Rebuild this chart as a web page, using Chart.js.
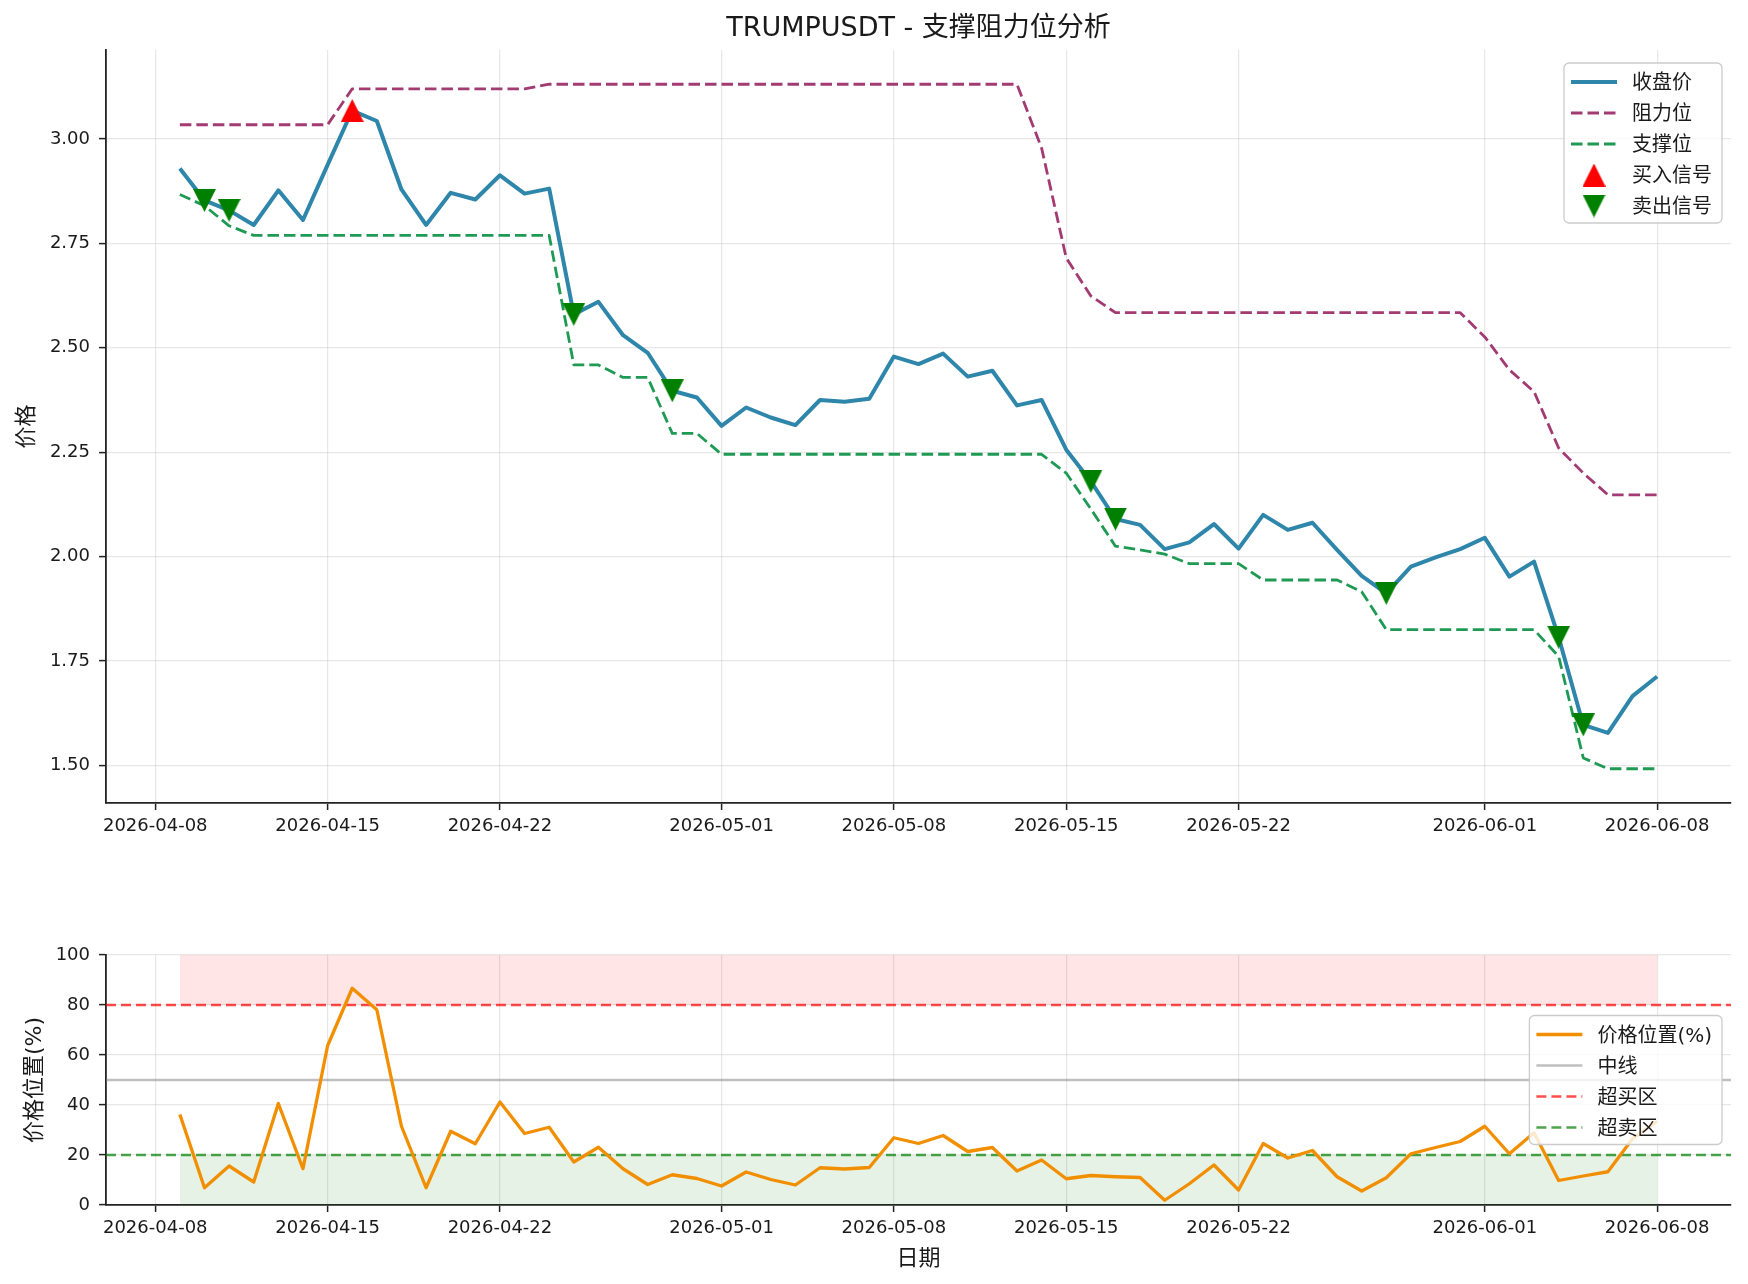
<!DOCTYPE html>
<html>
<head>
<meta charset="utf-8">
<title>TRUMPUSDT - 支撑阻力位分析</title>
<script src="https://cdn.jsdelivr.net/npm/chart.js@4.4.1/dist/chart.umd.min.js"></script>
<style>
    html, body { margin: 0; padding: 0; background: #fff; }
    #page   { position: relative; width: 1748px; height: 1284px; overflow: hidden; background: #fff; }
    #priceBox { position: absolute; left: 0; top: 0;     width: 1748px; height: 880px; }
    #posBox   { position: absolute; left: 0; top: 900px; width: 1748px; height: 384px; }
</style>
</head>
<body>
<div id="page">
    <div id="priceBox"><canvas id="priceChart"></canvas></div>
    <div id="posBox"><canvas id="posChart"></canvas></div>
</div>
<script>
/* ============================================================
   TRUMPUSDT – support / resistance chart
   ============================================================ */

// ---- Data ----
const DATES = [
    '2026-04-09', '2026-04-10', '2026-04-11', '2026-04-12', '2026-04-13', '2026-04-14', '2026-04-15',
    '2026-04-16', '2026-04-17', '2026-04-18', '2026-04-19', '2026-04-20', '2026-04-21', '2026-04-22',
    '2026-04-23', '2026-04-24', '2026-04-25', '2026-04-26', '2026-04-27', '2026-04-28', '2026-04-29',
    '2026-04-30', '2026-05-01', '2026-05-02', '2026-05-03', '2026-05-04', '2026-05-05', '2026-05-06',
    '2026-05-07', '2026-05-08', '2026-05-09', '2026-05-10', '2026-05-11', '2026-05-12', '2026-05-13',
    '2026-05-14', '2026-05-15', '2026-05-16', '2026-05-17', '2026-05-18', '2026-05-19', '2026-05-20',
    '2026-05-21', '2026-05-22', '2026-05-23', '2026-05-24', '2026-05-25', '2026-05-26', '2026-05-27',
    '2026-05-28', '2026-05-29', '2026-05-30', '2026-05-31', '2026-06-01', '2026-06-02', '2026-06-03',
    '2026-06-04', '2026-06-05', '2026-06-06', '2026-06-07', '2026-06-08',
];

const CLOSE = [
    2.929, 2.853, 2.829, 2.794, 2.877, 2.806, 2.938,
    3.068, 3.043, 2.879, 2.794, 2.871, 2.855, 2.913,
    2.869, 2.881, 2.580, 2.610, 2.530, 2.488, 2.397,
    2.381, 2.313, 2.357, 2.333, 2.315, 2.375, 2.371,
    2.378, 2.479, 2.461, 2.486, 2.431, 2.445, 2.362,
    2.375, 2.256, 2.180, 2.090, 2.076, 2.018, 2.034,
    2.078, 2.019, 2.100, 2.064, 2.081, 2.016, 1.954,
    1.912, 1.976, 1.998, 2.018, 2.045, 1.952, 1.988,
    1.807, 1.597, 1.578, 1.666, 1.713,
];

const RESISTANCE = [
    3.034, 3.034, 3.034, 3.034, 3.034, 3.034, 3.034,
    3.120, 3.120, 3.120, 3.120, 3.120, 3.120, 3.120,
    3.120, 3.131, 3.131, 3.131, 3.131, 3.131, 3.131,
    3.131, 3.131, 3.131, 3.131, 3.131, 3.131, 3.131,
    3.131, 3.131, 3.131, 3.131, 3.131, 3.131, 3.131,
    2.978, 2.715, 2.624, 2.584, 2.584, 2.584, 2.584,
    2.584, 2.584, 2.584, 2.584, 2.584, 2.584, 2.584,
    2.584, 2.584, 2.584, 2.584, 2.526, 2.447, 2.395,
    2.260, 2.200, 2.148, 2.148, 2.148,
];

const SUPPORT = [
    2.867, 2.840, 2.792, 2.769, 2.769, 2.769, 2.769,
    2.769, 2.769, 2.769, 2.769, 2.769, 2.769, 2.769,
    2.769, 2.769, 2.459, 2.459, 2.429, 2.429, 2.295,
    2.295, 2.245, 2.245, 2.245, 2.245, 2.245, 2.245,
    2.245, 2.245, 2.245, 2.245, 2.245, 2.245, 2.245,
    2.245, 2.200, 2.114, 2.025, 2.016, 2.006, 1.983,
    1.983, 1.983, 1.944, 1.944, 1.944, 1.944, 1.916,
    1.825, 1.825, 1.825, 1.825, 1.825, 1.825, 1.825,
    1.761, 1.518, 1.492, 1.492, 1.492,
];

// price position inside the channel, %
const POSITION = [
    36.2,  6.9, 15.6,  9.2, 40.6, 14.5, 63.7,
    86.7, 78.1, 31.5,  6.9, 29.5, 24.5, 41.2,
    28.6, 31.1, 17.2, 23.1, 14.5,  8.2, 12.1,
    10.6,  7.6, 13.2, 10.2,  8.0, 14.9, 14.4,
    15.0, 26.9, 24.6, 27.8, 21.4, 23.0, 13.6,
    18.0, 10.5, 11.8, 11.3, 11.0,  1.9,  8.5,
    16.0,  6.0, 24.6, 18.8, 21.8, 11.3,  5.6,
    10.9, 20.5, 23.0, 25.4, 31.5, 20.5, 28.9,
     9.8, 11.6, 13.3, 26.5, 33.5,
];

const BUY_DATES   = ['2026-04-16'];
const BUY_PRICES  = [3.068];
const SELL_DATES  = ['2026-04-10', '2026-04-11', '2026-04-25', '2026-04-29', '2026-05-16',
                     '2026-05-17', '2026-05-28', '2026-06-04', '2026-06-05'];
const SELL_PRICES = [2.853, 2.829, 2.580, 2.397, 2.180, 2.090, 1.912, 1.807, 1.597];

const X_TICK_LABELS = ['2026-04-08', '2026-04-15', '2026-04-22', '2026-05-01', '2026-05-08',
                       '2026-05-15', '2026-05-22', '2026-06-01', '2026-06-08'];
const PRICE_TICKS = [1.50, 1.75, 2.00, 2.25, 2.50, 2.75, 3.00];
const POS_TICKS   = [0, 20, 40, 60, 80, 100];

const OVERBOUGHT = 80;
const OVERSOLD   = 20;
const MIDLINE    = 50;
const POS_TOP    = 100;
const POS_BOTTOM = 0;

// ---- Style ----
const FONT  = "'DejaVu Sans', 'Noto Sans CJK SC', sans-serif";
const TEXT  = '#1a1a1a';
const SPINE = '#222222';
const GRID  = 'rgba(176, 176, 176, 0.3)';

Chart.defaults.font.family = FONT;
Chart.defaults.color = TEXT;
Chart.defaults.animation = false;
Chart.defaults.plugins.legend.display = false;
Chart.defaults.plugins.tooltip.enabled = false;

// dates -> day number counted from the first x tick
const DAY0 = Date.parse(X_TICK_LABELS[0]);
const dayOf = (s) => (Date.parse(s) - DAY0) / 86400000;
const pts = (dates, values) => dates.map((d, i) => ({ x: dayOf(d), y: values[i] }));

// matplotlib-like 5% margins
const xFirst = dayOf(DATES[0]);
const xLast  = dayOf(DATES[DATES.length - 1]);
const X_MIN = xFirst - 0.05 * (xLast - xFirst);
const X_MAX = xLast + 0.05 * (xLast - xFirst);

const allPrices = CLOSE.concat(RESISTANCE, SUPPORT, BUY_PRICES, SELL_PRICES);
const pMin = Math.min(...allPrices);
const pMax = Math.max(...allPrices);
const Y_MIN = pMin - 0.05 * (pMax - pMin);
const Y_MAX = pMax + 0.05 * (pMax - pMin);

// filled triangle markers (matplotlib '^' / 'v')
function triangle(color, up) {
    const c = document.createElement('canvas');
    c.width = 23; c.height = 23;
    const g = c.getContext('2d');
    g.fillStyle = color;
    g.beginPath();
    if (up) { g.moveTo(11.5, 0); g.lineTo(23, 23); g.lineTo(0, 23); }
    else    { g.moveTo(0, 0); g.lineTo(23, 0); g.lineTo(11.5, 23); }
    g.closePath();
    g.fill();
    return c;
}
const TRI_UP   = triangle('#ff0000', true);
const TRI_DOWN = triangle('#008000', false);

// ---- Plugins ----
// legend drawn in a box inside the plot area
const boxLegend = {
    id: 'boxLegend',
    afterDraw(chart, args, opts) {
        const { ctx, chartArea } = chart;
        const items = chart.data.datasets.filter(ds => !ds.noLegend)
            .sort((a, b) => a.legendIndex - b.legendIndex);
        ctx.save();
        ctx.font = `${opts.fontSize}px ${FONT}`;
        const textW = Math.max(...items.map(ds => ctx.measureText(ds.label).width));
        const w = 7 + 46 + 15 + textW + 10;
        const h = 36 + (items.length - 1) * 31;
        const x = chartArea.right - 9 - w;
        const y = opts.anchor === 'center'
            ? (chartArea.top + chartArea.bottom) / 2 - h / 2
            : chartArea.top + 13;

        ctx.beginPath();
        ctx.roundRect(x, y, w, h, 5);
        ctx.fillStyle = 'rgba(255, 255, 255, 0.8)';
        ctx.fill();
        ctx.strokeStyle = '#cccccc';
        ctx.lineWidth = 1.3;
        ctx.stroke();

        items.forEach((ds, i) => {
            const cy = y + 19 + i * 31;
            const hx = x + 7;
            if (ds.pointStyle instanceof HTMLCanvasElement) {
                ctx.drawImage(ds.pointStyle, hx + 23 - ds.pointStyle.width / 2, cy - ds.pointStyle.height / 2);
            } else {
                ctx.beginPath();
                ctx.setLineDash(ds.borderDash || []);
                ctx.lineCap = 'butt';
                ctx.strokeStyle = ds.borderColor;
                ctx.lineWidth = ds.borderWidth;
                ctx.moveTo(hx, cy);
                ctx.lineTo(hx + 46, cy);
                ctx.stroke();
                ctx.setLineDash([]);
            }
            ctx.fillStyle = TEXT;
            ctx.textBaseline = 'middle';
            ctx.textAlign = 'left';
            ctx.fillText(ds.label, hx + 61, cy + 2);
        });
        ctx.restore();
    },
};

// title centred over the plot area
const areaTitle = {
    id: 'areaTitle',
    afterDraw(chart, args, opts) {
        if (!opts.text) return;
        const { ctx, chartArea } = chart;
        ctx.save();
        ctx.font = `${opts.fontSize}px ${FONT}`;
        ctx.fillStyle = TEXT;
        ctx.textAlign = 'center';
        ctx.textBaseline = 'middle';
        ctx.fillText(opts.text, (chartArea.left + chartArea.right) / 2, opts.y);
        ctx.restore();
    },
};

// ---- Shared axes ----
function xAxis(height, title) {
    return {
        type: 'linear',
        min: X_MIN,
        max: X_MAX,
        afterBuildTicks: (s) => { s.ticks = X_TICK_LABELS.map(l => ({ value: dayOf(l) })); },
        afterFit: (s) => { s.height = height; },
        ticks: {
            autoSkip: false, maxRotation: 0, minRotation: 0, padding: 6,
            color: TEXT, font: { size: 18 },
            callback: (v, i) => X_TICK_LABELS[i],
        },
        grid: { color: GRID, lineWidth: 1.2, tickColor: SPINE, tickLength: 7, tickWidth: 1.5 },
        border: { display: true, color: SPINE, width: 1.8 },
        title: title
            ? { display: true, text: title, font: { size: 22 }, color: TEXT, padding: { top: 0, bottom: 12 } }
            : { display: false },
    };
}

function yAxis(min, max, ticks, fmt, title, titlePad) {
    return {
        type: 'linear',
        min: min,
        max: max,
        afterBuildTicks: (s) => { s.ticks = ticks.map(v => ({ value: v })); },
        afterFit: (s) => { s.width = 106; },
        ticks: { padding: 9, color: TEXT, font: { size: 18 }, callback: fmt },
        grid: { color: GRID, lineWidth: 1.2, tickColor: SPINE, tickLength: 7, tickWidth: 1.5 },
        border: { display: true, color: SPINE, width: 1.8 },
        title: { display: true, text: title, font: { size: 22 }, color: TEXT, padding: { top: titlePad, bottom: 0 } },
    };
}

const lineBase = { pointRadius: 0, tension: 0, fill: false, borderJoinStyle: 'round', borderCapStyle: 'butt' };

// ---- 1. Price with support / resistance ----
new Chart(document.getElementById('priceChart'), {
    type: 'line',
    data: {
        datasets: [
            { ...lineBase, label: '收盘价', legendIndex: 0, order: 4,
              data: pts(DATES, CLOSE), borderColor: '#2E86AB', borderWidth: 4 },
            { ...lineBase, label: '阻力位', legendIndex: 1, order: 3,
              data: pts(DATES, RESISTANCE), borderColor: '#A23B72', borderWidth: 2.8, borderDash: [11.5, 5] },
            { ...lineBase, label: '支撑位', legendIndex: 2, order: 2,
              data: pts(DATES, SUPPORT), borderColor: '#1F9A55', borderWidth: 2.8, borderDash: [11.5, 5] },
            { label: '买入信号', legendIndex: 3, order: 1, showLine: false,
              data: pts(BUY_DATES, BUY_PRICES), pointStyle: TRI_UP, pointRadius: 11 },
            { label: '卖出信号', legendIndex: 4, order: 0, showLine: false,
              data: pts(SELL_DATES, SELL_PRICES), pointStyle: TRI_DOWN, pointRadius: 11 },
        ],
    },
    options: {
        responsive: true,
        maintainAspectRatio: false,
        layout: { padding: { left: 0, right: 17, top: 50, bottom: 0 } },
        plugins: {
            boxLegend: { anchor: 'top', fontSize: 20 },
            areaTitle: { text: 'TRUMPUSDT - 支撑阻力位分析', fontSize: 27, y: 29 },
        },
        scales: {
            x: xAxis(77, null),
            y: yAxis(Y_MIN, Y_MAX, PRICE_TICKS, (v) => v.toFixed(2), '价格', 14),
        },
    },
    plugins: [boxLegend, areaTitle],
});

// ---- 2. Price position (%) ----
const span = (y) => [{ x: X_MIN, y: y }, { x: X_MAX, y: y }];
const band = (y) => [{ x: xFirst, y: y }, { x: xLast, y: y }];

new Chart(document.getElementById('posChart'), {
    type: 'line',
    data: {
        datasets: [
            { ...lineBase, label: '价格位置(%)', legendIndex: 0, order: 0,
              data: pts(DATES, POSITION), borderColor: '#F18F01', borderWidth: 3.3 },
            { ...lineBase, label: '中线', legendIndex: 1, order: 1,
              data: span(MIDLINE), borderColor: 'rgba(128, 128, 128, 0.5)', borderWidth: 2.5 },
            { ...lineBase, label: '超买区', legendIndex: 2, order: 2,
              data: span(OVERBOUGHT), borderColor: 'rgba(255, 0, 0, 0.7)', borderWidth: 2.5, borderDash: [10, 5] },
            { ...lineBase, label: '超卖区', legendIndex: 3, order: 3,
              data: span(OVERSOLD), borderColor: 'rgba(0, 128, 0, 0.7)', borderWidth: 2.5, borderDash: [10, 5] },
            { ...lineBase, label: 'overbought band', noLegend: true, order: 5,
              data: band(POS_TOP), borderWidth: 0, fill: { value: OVERBOUGHT },
              backgroundColor: 'rgba(255, 0, 0, 0.1)' },
            { ...lineBase, label: 'oversold band', noLegend: true, order: 6,
              data: band(OVERSOLD), borderWidth: 0, fill: { value: POS_BOTTOM },
              backgroundColor: 'rgba(0, 128, 0, 0.1)' },
        ],
    },
    options: {
        responsive: true,
        maintainAspectRatio: false,
        layout: { padding: { left: 0, right: 17, top: 55, bottom: 0 } },
        plugins: {
            boxLegend: { anchor: 'center', fontSize: 20 },
        },
        scales: {
            x: xAxis(79, '日期'),
            y: yAxis(POS_BOTTOM, POS_TOP, POS_TICKS, (v) => String(v), '价格位置(%)', 22),
        },
    },
    plugins: [boxLegend],
});
</script>
</body>
</html>
